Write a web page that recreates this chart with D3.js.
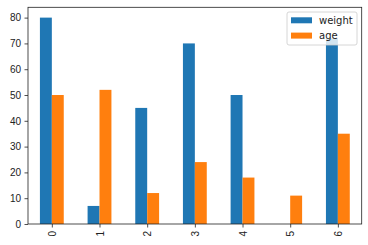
<!DOCTYPE html>
<html>
<head>
<meta charset="utf-8">
<script src="https://cdn.jsdelivr.net/npm/d3@7"></script>
<style>
  html, body { margin: 0; padding: 0; background: #fff; }
  svg { display: block; font-family: "DejaVu Sans", sans-serif; }
</style>
</head>
<body>
<svg id="chart" width="368" height="245"></svg>
<script>
// data
const categories = ["0", "1", "2", "3", "4", "5", "6"];
const weight = [80, 7, 45, 70, 50, 0, 72];
const age = [50, 52, 12, 24, 18, 11, 35];
const seriesNames = ["weight", "age"];
const seriesColors = ["#1f77b4", "#ff7f0e"];
const yTicks = [0, 10, 20, 30, 40, 50, 60, 70, 80];

const W = 368, H = 245;
const margin = { top: 7.3, right: 6.3, bottom: 21, left: 28 };

const svg = d3.select("#chart");

const x = d3.scaleLinear()
  .domain([-0.5, categories.length - 0.5])
  .range([margin.left, W - margin.right]);

const y = d3.scaleLinear()
  .domain([0, 84])
  .range([H - margin.bottom, margin.top]);

const barW = x(0.25) - x(0);
const series = [weight, age];

const g = svg.append("g");

series.forEach((vals, si) => {
  g.append("g").selectAll("rect")
    .data(vals.map((v, i) => ({ v, i })))
    .enter().append("rect")
    .attr("x", d => x(d.i - 0.25 + si * 0.25))
    .attr("y", d => y(d.v))
    .attr("width", barW)
    .attr("height", d => y(0) - y(d.v))
    .attr("fill", seriesColors[si]);
});

// axes
const yAxis = g.append("g")
  .attr("transform", `translate(${margin.left},0)`)
  .call(d3.axisLeft(y).tickValues(yTicks).tickSize(3.5).tickPadding(3.5).tickSizeOuter(0));
yAxis.select(".domain").remove();
yAxis.selectAll("text").attr("font-size", 10).attr("fill", "#222");
yAxis.selectAll("line").attr("stroke", "#222").attr("stroke-width", 0.8);

const xAxis = g.append("g")
  .attr("transform", `translate(0,${H - margin.bottom})`)
  .call(d3.axisBottom(x).tickValues(d3.range(categories.length)).tickFormat(i => categories[i]).tickSize(3.5).tickSizeOuter(0));
xAxis.select(".domain").remove();
xAxis.selectAll("line").attr("stroke", "#222").attr("stroke-width", 0.8);
xAxis.selectAll("text")
  .attr("font-size", 10)
  .attr("fill", "#222")
  .attr("y", 0)
  .attr("dy", "0.35em")
  .attr("transform", "translate(0,7) rotate(-90)")
  .style("text-anchor", "end");

// frame
g.append("rect")
  .attr("x", margin.left)
  .attr("y", margin.top)
  .attr("width", W - margin.left - margin.right)
  .attr("height", H - margin.top - margin.bottom)
  .attr("fill", "none")
  .attr("stroke", "#222")
  .attr("stroke-width", 0.8);

// legend
const lg = svg.append("g").attr("transform", "translate(287,12)");
lg.append("rect")
  .attr("width", 70).attr("height", 33).attr("rx", 2)
  .attr("fill", "rgba(255,255,255,0.8)")
  .attr("stroke", "#ccc").attr("stroke-width", 0.8);
seriesNames.forEach((name, i) => {
  lg.append("rect")
    .attr("x", 4).attr("y", 5.3 + i * 15.3)
    .attr("width", 21).attr("height", 6)
    .attr("fill", seriesColors[i]);
  lg.append("text")
    .attr("x", 32).attr("y", 8.3 + i * 15.3)
    .attr("dy", "0.35em")
    .attr("font-size", 10)
    .attr("fill", "#222")
    .text(name);
});
</script>
</body>
</html>
